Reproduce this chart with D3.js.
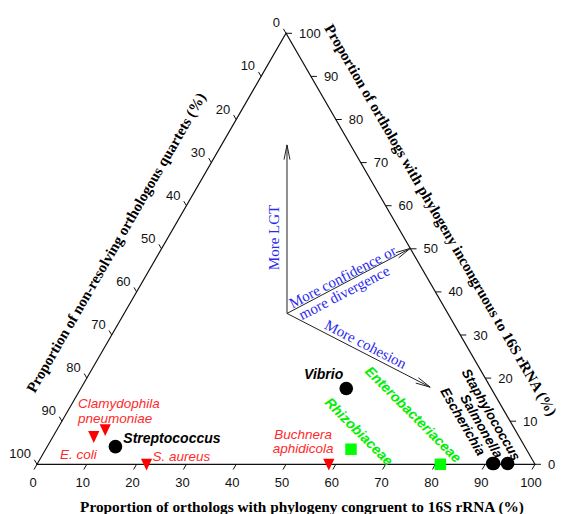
<!DOCTYPE html>
<html><head><meta charset="utf-8">
<script src="https://cdn.jsdelivr.net/npm/d3@7/dist/d3.min.js"></script>
<style>body{margin:0;background:#fff} svg{display:block}</style>
</head><body>
<svg id="chart" width="562" height="514"></svg>
<script>
// ---- data (percentages) ----
const taxa = ["E. coli", "Clamydophila pneumoniae", "Streptococcus", "S. aureus", "Buchnera aphidicola",
              "Rhizobiaceae", "Enterobacteriaceae", "Vibrio", "Escherichia", "Salmonella", "Staphylococcus"];
const congruent    = [8.2, 9.7, 13.7, 22.0, 58.6, 61.3, 81.0, 53.3, 91.4, 91.6, 94.4];
const incongruent  = [6.4, 8.0, 4.1, 0.0, 0.0, 3.5, 0.0, 17.6, 0.2, 0.2, 0.2];
const nonResolving = [85.4, 82.3, 82.2, 78.0, 41.4, 35.2, 19.0, 29.1, 8.4, 8.2, 5.4];
const level = ["species", "species", "genus", "species", "species", "family", "family", "genus", "genus", "genus", "genus"];
const tickValues = [0, 10, 20, 30, 40, 50, 60, 70, 80, 90, 100];
const axisTitles = {
  bottom: "Proportion of orthologs with phylogeny congruent to 16S rRNA (%)",
  right: "Proportion of orthologs with phylogeny incongruous to 16S rRNA (%)",
  left: "Proportion of non-resolving orthologous quartets (%)"
};
// direction arrows in ternary coords [congruent, incongruent]
const arrowOrigin = [32.7, 35.0];
const arrowTips = [[13.15, 74.1], [49.9, 50.1], [70.0, 17.9]];

// ---- layout ----
const svg = d3.select("#chart");
svg.append("rect").attr("width", 562).attr("height", 514).attr("fill", "#fff");
const sx = d3.scaleLinear().domain([0, 100]).range([37, 535]);
const sy = d3.scaleLinear().domain([0, 100]).range([464.3, 33.3]);
const pt = (a, b) => [sx(a + b / 2), sy(b)];

const SANS = "'Liberation Sans', Arial, sans-serif";
const SERIF = "'Liberation Serif', 'Times New Roman', serif";

// triangle frame
const verts = [pt(0, 0), pt(100, 0), pt(0, 100)];
svg.append("path").attr("d", "M" + verts.map(v => v.join(",")).join("L") + "Z")
  .attr("fill", "none").attr("stroke", "#111").attr("stroke-width", 1.2);

const axG = svg.append("g").attr("font-family", SANS).attr("font-size", 13).attr("fill", "#111");
// bottom axis (congruent)
tickValues.forEach(v => {
  const [x, y] = pt(v, 0);
  axG.append("line").attr("x1", x).attr("y1", y).attr("x2", x - 3).attr("y2", y + 5.2).attr("stroke", "#111");
  axG.append("text").attr("x", x - 4).attr("y", y + 22.7).attr("text-anchor", "middle").text(v);
});
// right axis (incongruent)
tickValues.forEach(v => {
  const [x, y] = pt(100 - v, v);
  axG.append("line").attr("x1", x).attr("y1", y).attr("x2", x + 6).attr("y2", y).attr("stroke", "#111");
  axG.append("text").attr("x", x + 13).attr("y", y).attr("dy", "0.35em").attr("text-anchor", "start").text(v);
});
// left axis (non-resolving)
tickValues.forEach(v => {
  const [x, y] = pt(0, 100 - v);
  axG.append("line").attr("x1", x).attr("y1", y).attr("x2", x - 2.6).attr("y2", y - 4.5).attr("stroke", "#111");
  axG.append("text").attr("x", x - 6).attr("y", y - 6).attr("text-anchor", "end").text(v);
});

// axis titles
const tg = svg.append("g").attr("font-family", SERIF).attr("font-weight", "bold").attr("font-size", 15).attr("fill", "#000");
tg.append("text").attr("x", 302).attr("y", 512).attr("text-anchor", "middle").attr("font-size", 15.3).text(axisTitles.bottom);
tg.append("text").attr("transform", "translate(116,242.5) rotate(-60)").attr("dy", "0.35em")
  .attr("text-anchor", "middle").text(axisTitles.left);
tg.append("text").attr("transform", "translate(441,220) rotate(60)").attr("dy", "0.35em")
  .attr("text-anchor", "middle").text(axisTitles.right);

// arrows
const ag = svg.append("g").attr("stroke", "#222").attr("stroke-width", 1).attr("fill", "none");
const [ox, oy] = pt(...arrowOrigin);
arrowTips.forEach(t => {
  const [tx, ty] = pt(...t);
  ag.append("line").attr("x1", ox).attr("y1", oy).attr("x2", tx).attr("y2", ty);
  const ang = Math.atan2(ty - oy, tx - ox);
  [-1, 1].forEach(s => {
    const a2 = ang + Math.PI + s * 0.2;
    ag.append("line").attr("x1", tx).attr("y1", ty)
      .attr("x2", tx + 15 * Math.cos(a2)).attr("y2", ty + 15 * Math.sin(a2));
  });
});
const bg = svg.append("g").attr("font-family", SERIF).attr("font-size", 15).attr("fill", "#2a2aee");
bg.append("text").attr("transform", "translate(274,237.5) rotate(-90)").attr("dy", "0.35em").attr("text-anchor", "middle").text("More LGT");
bg.append("text").attr("transform", "translate(342.5,276.7) rotate(-27.5)").attr("dy", "0.35em").attr("text-anchor", "middle").text("More confidence or");
bg.append("text").attr("transform", "translate(344,292.5) rotate(-27.5)").attr("dy", "0.35em").attr("text-anchor", "middle").text("more divergence");
bg.append("text").attr("transform", "translate(365.8,344) rotate(27.3)").attr("dy", "0.35em").attr("text-anchor", "middle").text("More cohesion");

// markers
const RED = "#ff0000", GREEN = "#00ee00";
const triPath = "M-5.6,-5.6L5.6,-5.6L0,6.2Z";
const mg = svg.append("g");
taxa.forEach((name, i) => {
  const [x, y] = pt(congruent[i], incongruent[i]);
  const lv = level[i];
  if (lv === "species") {
    mg.append("path").attr("d", triPath).attr("transform", `translate(${x},${y})`).attr("fill", RED);
  } else if (lv === "family") {
    mg.append("path").attr("d", d3.symbol(d3.symbolSquare, 132)()).attr("transform", `translate(${x},${y})`).attr("fill", "#00ff00");
  }
});
// genus circles (Salmonella drawn first, hidden behind Escherichia)
[9, 8, 10, 2, 7].forEach(i => {
  const [x, y] = pt(congruent[i], incongruent[i]);
  mg.append("circle").attr("cx", x).attr("cy", y).attr("r", 6.8).attr("fill", "#000");
});

// labels
const labelLayout = {
  "E. coli": {dx: -33.8, dy: 21.8, anchor: "start"},
  "Clamydophila pneumoniae": {dx: -27.2, dy: -22.1, anchor: "start", lines: ["Clamydophila", "pneumoniae"], lh: 15},
  "Streptococcus": {dx: 7.9, dy: -4.1, anchor: "start"},
  "S. aureus": {dx: 6, dy: -3.8, anchor: "start"},
  "Buchnera aphidicola": {dx: -25.8, dy: -25.3, anchor: "middle", lines: ["Buchnera", "aphidicola"], lh: 14},
  "Rhizobiaceae": {dx: 8, dy: -17.7, anchor: "middle", rot: 45, center: true},
  "Enterobacteriaceae": {dx: -27, dy: -50, anchor: "middle", rot: 45, center: true},
  "Vibrio": {dx: -3, dy: -9.4, anchor: "end"},
  "Escherichia": {dx: -14.7, dy: -6.7, anchor: "end", rot: 60, fs: 13.5},
  "Salmonella": {dx: 1.8, dy: -4.2, anchor: "end", rot: 60, fs: 13.5},
  "Staphylococcus": {dx: 5.4, dy: -1.7, anchor: "end", rot: 60, fs: 13.5}
};
const lg = svg.append("g").attr("font-family", SANS).attr("font-style", "italic");
taxa.forEach((name, i) => {
  const [x, y] = pt(congruent[i], incongruent[i]);
  const L = labelLayout[name];
  const lv = level[i];
  const color = lv === "species" ? "#ff2a2a" : lv === "family" ? GREEN : "#000";
  const bold = lv !== "species";
  const t = lg.append("text")
    .attr("transform", `translate(${x + L.dx},${y + L.dy})` + (L.rot ? ` rotate(${L.rot})` : ""))
    .attr("text-anchor", L.anchor).attr("fill", color)
    .attr("font-size", L.fs || (bold ? 14 : 13.5)).attr("font-weight", bold ? "bold" : "normal");
  if (L.center) t.attr("dy", "0.35em");
  if (L.lines) {
    L.lines.forEach((s, k) => t.append("tspan").attr("x", 0).attr("y", k * L.lh).text(s));
  } else t.text(name);
});
</script>
</body></html>
